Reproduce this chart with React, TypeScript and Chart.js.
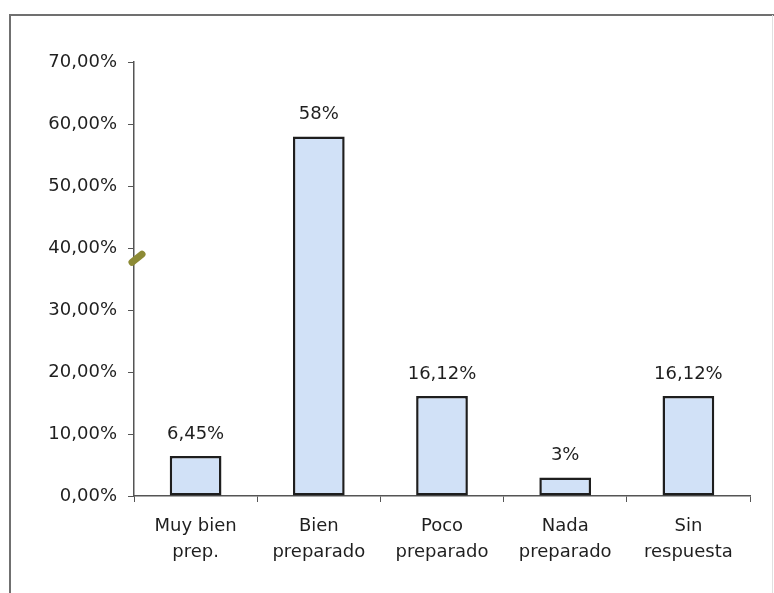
import React, { useEffect, useRef } from "react";
import { Chart, registerables } from "chart.js";

Chart.register(...registerables);

const categories: string[][] = [
  ["Muy bien", "prep."],
  ["Bien", "preparado"],
  ["Poco", "preparado"],
  ["Nada", "preparado"],
  ["Sin", "respuesta"],
];
const values: number[] = [6.45, 58, 16.12, 3, 16.12];
const valueLabels: string[] = ["6,45%", "58%", "16,12%", "3%", "16,12%"];
const yMin = 0;
const yMax = 70;
const yStep = 10;

const FONT = "'DejaVu Sans', 'Liberation Sans', Arial, sans-serif";
const TEXT = "#1f1f1f";

const framePlugin = {
  id: "frame",
  beforeDraw(chart: any) {
    const ctx = chart.ctx;
    ctx.save();
    ctx.fillStyle = "#ffffff";
    ctx.fillRect(0, 0, chart.width, chart.height);
    ctx.strokeStyle = "#707070";
    ctx.lineWidth = 2;
    ctx.beginPath();
    ctx.moveTo(10, chart.height);
    ctx.lineTo(10, 15);
    ctx.lineTo(chart.width, 15);
    ctx.stroke();
    ctx.strokeStyle = "#e0e0e0";
    ctx.lineWidth = 1;
    ctx.beginPath();
    ctx.moveTo(chart.width - 1.5, 15);
    ctx.lineTo(chart.width - 1.5, chart.height);
    ctx.stroke();
    ctx.restore();
  },
  afterDraw(chart: any) {
    // small olive mark on the y axis (scan artifact)
    const ctx = chart.ctx;
    const y = chart.scales.y;
    const x0 = chart.chartArea.left;
    const py = y.getPixelForValue(38.5);
    ctx.save();
    ctx.strokeStyle = "#8c8a35";
    ctx.lineWidth = 7;
    ctx.lineCap = "round";
    ctx.beginPath();
    ctx.moveTo(x0 - 2, py + 5);
    ctx.lineTo(x0 + 8, py - 3);
    ctx.stroke();
    ctx.restore();
  },
};

const valueLabelPlugin = {
  id: "valueLabels",
  afterDatasetsDraw(chart: any) {
    const ctx = chart.ctx;
    const meta = chart.getDatasetMeta(0);
    ctx.save();
    ctx.font = `18px ${FONT}`;
    ctx.fillStyle = TEXT;
    ctx.textAlign = "center";
    ctx.textBaseline = "middle";
    meta.data.forEach((bar: any, i: number) => {
      ctx.fillText(valueLabels[i], bar.x, bar.y - 22);
    });
    ctx.restore();
  },
};

export default function App() {
  const ref = useRef<HTMLCanvasElement>(null);
  useEffect(() => {
    if (!ref.current) return;
    const chart = new Chart(ref.current, {
      type: "bar",
      data: {
        labels: categories,
        datasets: [
          {
            data: values,
            backgroundColor: "#d1e1f7",
            borderColor: "#1e1e1e",
            borderWidth: 2.5,
            borderSkipped: false,
            barPercentage: 0.42,
            categoryPercentage: 1,
          },
        ],
      },
      options: {
        responsive: false,
        animation: false,
        layout: { padding: { left: 0, right: 24, top: 62, bottom: 0 } },
        plugins: {
          legend: { display: false },
          tooltip: { enabled: false },
        },
        scales: {
          x: {
            grid: {
              display: true,
              drawOnChartArea: false,
              drawTicks: true,
              tickLength: 6,
              color: "#555555",
              offset: true,
            },
            border: { display: true, color: "#555555", width: 1.5 },
            ticks: {
              color: TEXT,
              font: { family: FONT, size: 18, lineHeight: 1.45 },
              padding: 11,
              maxRotation: 0,
              autoSkip: false,
            },
            afterFit(scale: any) {
              scale.height = 97;
            },
          },
          y: {
            min: yMin,
            max: yMax,
            ticks: {
              stepSize: yStep,
              color: TEXT,
              font: { family: FONT, size: 18 },
              padding: 11,
              callback: (v: any) => Number(v).toFixed(2).replace(".", ",") + "%",
            },
            grid: {
              display: true,
              drawOnChartArea: false,
              drawTicks: true,
              tickLength: 6,
              color: "#555555",
            },
            border: { display: true, color: "#555555", width: 1.5 },
            afterFit(scale: any) {
              scale.width = 134;
            },
          },
        },
      },
      plugins: [framePlugin, valueLabelPlugin],
    });
    return () => chart.destroy();
  }, []);
  return (
    <div style={{ position: "fixed", left: 0, top: 0, width: 774, height: 593, background: "#fff" }}>
      <canvas ref={ref} width={774} height={593} style={{ width: 774, height: 593, display: "block" }} />
    </div>
  );
}
